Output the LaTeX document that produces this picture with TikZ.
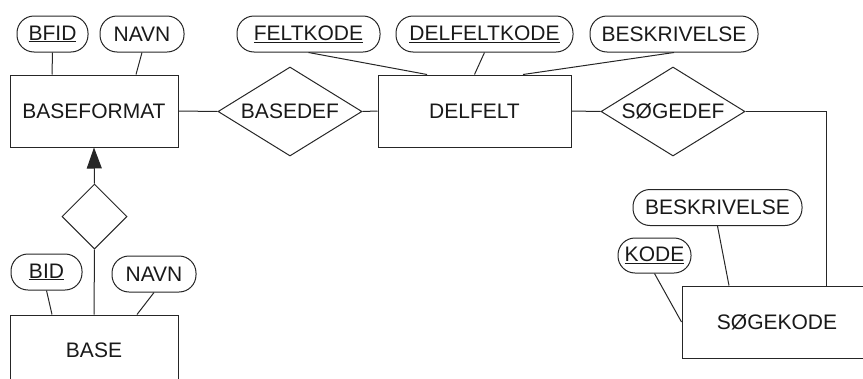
\documentclass[tikz,border=0pt]{standalone}
\usepackage{fontspec}
\setmainfont{Liberation Sans}
\usetikzlibrary{%
    shapes.geometric,%
    arrows.meta
}
\begin{document}
\begin{tikzpicture}[x=1pt,y=-1pt,
    txt/.style={font={\fontsize{21}{24}\selectfont},text=black!90},
    entity/.style={txt,draw=black!85,line width=1pt,rectangle,minimum height=72pt,inner sep=0pt},
    attrib/.style={txt,draw=black!85,line width=1pt,rectangle,rounded corners=17pt,
                   minimum height=36pt,inner sep=0pt},
    relation/.style={txt,draw=black!85,line width=1pt,diamond,aspect=1.62,
                     minimum width=144pt,minimum height=89pt,inner sep=0pt},
    link/.style={line width=1pt,black!85}]
\useasboundingbox (0,0) rectangle (863,378);
\clip (0,0) rectangle (863,378);

% entities
\node[entity,minimum width=168pt] (baseformat) at (94,111) {BASEFORMAT};
\node[entity,minimum width=193pt] (delfelt) at (474.5,111) {DELFELT};
\node[entity,minimum width=190pt] (soegekode) at (777,322) {SØGEKODE};
\node[entity,minimum width=168pt,minimum height=70pt] (base) at (94,350) {BASE};

% relations
\node[relation] (basedef) at (290,111.5) {BASEDEF};
\node[relation] (soegedef) at (673,111.5) {SØGEDEF};
\node[relation,minimum width=65pt,minimum height=65pt] (isa) at (94.5,216.5) {};

% attributes
\node[attrib,minimum width=71pt] (bfid) at (52.5,34) {\underline{BFID}};
\node[attrib,minimum width=84pt] (navnA) at (142,34) {NAVN};
\node[attrib,minimum width=143pt] (feltkode) at (308.5,34) {\underline{FELTKODE}};
\node[attrib,minimum width=177pt] (delfeltkode) at (484.5,34) {\underline{DELFELTKODE}};
\node[attrib,minimum width=168pt] (beskrA) at (674,34) {BESKRIVELSE};
\node[attrib,minimum width=169pt] (beskrB) at (717.5,207.5) {BESKRIVELSE};
\node[attrib,minimum width=73pt,minimum height=35pt] (kode) at (654.5,255.5) {\underline{KODE}};
\node[attrib,minimum width=71pt] (bid) at (46.5,272) {\underline{BID}};
\node[attrib,minimum width=84pt] (navnB) at (154,274) {NAVN};

\draw[link] (bfid.south)--([xshift=-42pt]baseformat.north);
\draw[link] (navnA.south)--([xshift=42pt]baseformat.north);
\draw[link] (feltkode.south)--([xshift=-47.5pt]delfelt.north);
\draw[link] (delfeltkode.south)--(delfelt.north);
\draw[link] (beskrA.south)--([xshift=48.5pt]delfelt.north);
\draw[link] (beskrB.south)--([xshift=-48pt]soegekode.north);
\draw[link] (kode.south)--(soegekode.west);
\draw[link] (bid.south)--([xshift=-42pt]base.north);
\draw[link] (navnB.south)--([xshift=43pt]base.north);

\draw[link] (baseformat.east)--(basedef.west);
\draw[link] (basedef.east)--(delfelt.west);
\draw[link] (delfelt.east)--(soegedef.west);
\draw[link] (soegedef.east)-|([xshift=49pt]soegekode.north);

\draw[link,-{Triangle[length=21pt,width=15pt]}] (isa.north)--(baseformat.south);
\draw[link] (isa.south)--(base.north);
\end{tikzpicture}
\end{document}
